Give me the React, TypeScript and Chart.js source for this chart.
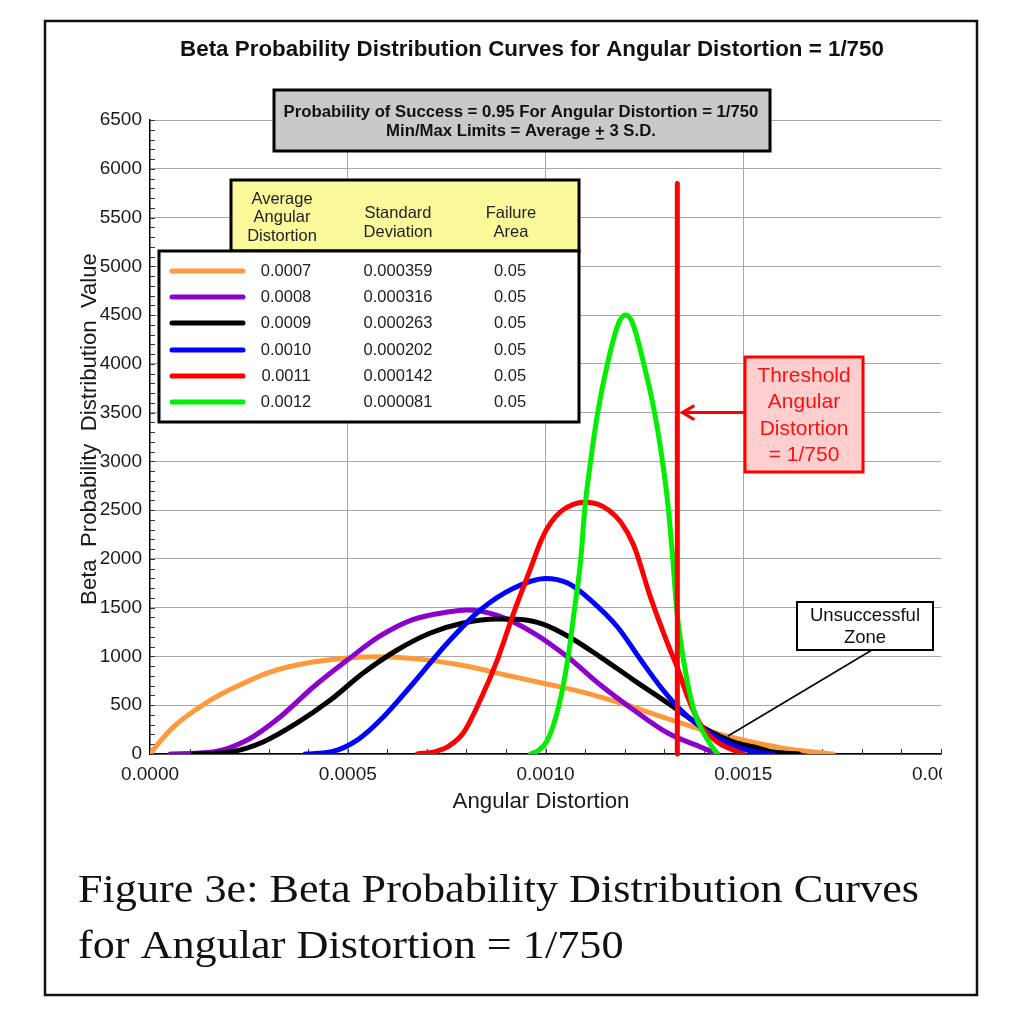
import React, { useEffect, useRef } from "react";
import { Chart, registerables } from "chart.js";

Chart.register(...registerables);

const SANS = "'Liberation Sans', Arial, sans-serif";
const SERIF = "'Liberation Serif', 'Times New Roman', serif";

// ---- data ----
const chartTitle = "Beta Probability Distribution Curves for Angular Distortion = 1/750";
const infoLine1 = "Probability of Success = 0.95 For Angular Distortion = 1/750";
const xAxisTitle = "Angular Distortion";
const yAxisTitle = "Beta  Probability  Distribution  Value";
const captionLines = ["Figure 3e: Beta Probability Distribution Curves", "for Angular Distortion = 1/750"];

const xTickValues = [0, 0.0005, 0.001, 0.0015, 0.002];
const yMax = 6500;
const yStep = 500;

const seriesLabels = ["0.0007", "0.0008", "0.0009", "0.0010", "0.0011", "0.0012"];
const seriesStdDev = ["0.000359", "0.000316", "0.000263", "0.000202", "0.000142", "0.000081"];
const seriesFailure = ["0.05", "0.05", "0.05", "0.05", "0.05", "0.05"];
const seriesColors = ["#ff9a3c", "#8c00cc", "#000000", "#0000ff", "#ff0000", "#00ee00"];

const orangeX = [0, 0.00003, 0.00006, 0.0001, 0.00015, 0.0002, 0.0003, 0.0004, 0.0005, 0.00058, 0.000633, 0.000709, 0.0008, 0.000899, 0.001, 0.001099, 0.0012, 0.001299, 0.0014, 0.001499, 0.0016, 0.001699, 0.001727];
const orangeY = [0, 150, 280, 410, 545, 655, 835, 935, 985, 998, 990, 960, 902, 810, 720, 630, 510, 375, 246, 143, 60, 12, 0];

const purpleX = [0.000051, 0.000159, 0.000246, 0.000329, 0.000413, 0.000499, 0.000582, 0.000666, 0.000752, 0.000803, 0.000878, 0.00097, 0.001056, 0.001139, 0.001223, 0.001309, 0.001392, 0.001435];
const purpleY = [0, 20, 143, 380, 687, 963, 1210, 1380, 1455, 1476, 1420, 1240, 994, 707, 451, 215, 72, 0];

const blackX = [0.000109, 0.000203, 0.000286, 0.000372, 0.000456, 0.000539, 0.000625, 0.000709, 0.000792, 0.000878, 0.000937, 0.000995, 0.001056, 0.001139, 0.001223, 0.001309, 0.001359, 0.00141, 0.001476, 0.001527, 0.001577, 0.001641];
const blackY = [0, 20, 123, 318, 553, 830, 1066, 1240, 1343, 1384, 1380, 1330, 1210, 994, 758, 523, 380, 246, 123, 72, 20, 0];

const blueX = [0.000392, 0.000456, 0.000524, 0.00059, 0.000666, 0.000752, 0.000835, 0.000919, 0.001, 0.001056, 0.001114, 0.001182, 0.001241, 0.001291, 0.001342, 0.001392, 0.001461, 0.001519, 0.001575];
const blueY = [0, 20, 143, 380, 728, 1138, 1476, 1700, 1800, 1752, 1578, 1302, 963, 687, 451, 277, 113, 30, 0];

const redX = [0.000676, 0.000722, 0.000752, 0.000792, 0.000835, 0.000878, 0.000919, 0.000962, 0.00099, 0.001013, 0.00104, 0.00107, 0.0011, 0.00113, 0.00116, 0.00119, 0.001223, 0.001266, 0.001309, 0.001334, 0.001359, 0.001392, 0.001435, 0.001476, 0.001501];
const redY = [0, 25, 72, 215, 553, 963, 1440, 1900, 2200, 2370, 2490, 2560, 2582, 2565, 2500, 2380, 2140, 1600, 1130, 880, 590, 300, 120, 40, 0];

const greenX = [0.000962, 0.00098, 0.001005, 0.001033, 0.001056, 0.001073, 0.001089, 0.001099, 0.001114, 0.001132, 0.001157, 0.001185, 0.001203, 0.00122, 0.001248, 0.001276, 0.001296, 0.001311, 0.001322, 0.001332, 0.001349, 0.001375, 0.00141, 0.001435];
const greenY = [0, 30, 143, 482, 963, 1476, 1990, 2500, 3000, 3500, 4008, 4418, 4500, 4418, 4008, 3495, 2993, 2500, 1990, 1476, 963, 451, 143, 0];

const thresholdValue = 1 / 750;
const thresholdX = [thresholdValue, thresholdValue];
const thresholdY = [0, 5850];

const seriesX = [orangeX, purpleX, blackX, blueX, redX, greenX];
const seriesY = [orangeY, purpleY, blackY, blueY, redY, greenY];

function toPoints(xs: number[], ys: number[]) {
  return xs.map((x, i) => ({ x, y: ys[i] }));
}

function fitSize(ctx: CanvasRenderingContext2D, text: string, weight: string, family: string, target: number) {
  ctx.font = `${weight} 100px ${family}`;
  return (100 * target) / ctx.measureText(text).width;
}

const overlayPlugin = {
  id: "overlay",
  beforeDatasetsDraw(chart: any) {
    const ctx: CanvasRenderingContext2D = chart.ctx;
    const xs = chart.scales.x;
    const ys = chart.scales.y;
    const area = chart.chartArea;
    ctx.save();
    ctx.strokeStyle = "#333";
    ctx.lineWidth = 1;
    ctx.beginPath();
    for (let v = 0; v <= yMax; v += 100) {
      const py = Math.round(ys.getPixelForValue(v)) + 0.5;
      ctx.moveTo(area.left, py);
      ctx.lineTo(area.left + 5, py);
    }
    for (let k = 0; k <= 20; k++) {
      const px = Math.round(xs.getPixelForValue(k * 0.0001)) + 0.5;
      ctx.moveTo(px, area.bottom);
      ctx.lineTo(px, area.bottom - 5);
    }
    ctx.stroke();
    ctx.restore();
  },
  afterDraw(chart: any) {
    const ctx: CanvasRenderingContext2D = chart.ctx;
    const xs = chart.scales.x;
    const ys = chart.scales.y;
    const area = chart.chartArea;
    ctx.save();

    // clip the last x tick label like the reference
    ctx.fillStyle = "#fff";
    ctx.fillRect(area.right + 1, area.bottom + 4, 974 - area.right - 1, 40);

    // chart title
    ctx.fillStyle = "#111";
    ctx.textBaseline = "middle";
    ctx.textAlign = "center";
    const ts = fitSize(ctx, chartTitle, "bold", SANS, 704);
    ctx.font = `bold ${ts}px ${SANS}`;
    ctx.fillText(chartTitle, 532, 50);

    // grey info box
    ctx.fillStyle = "#c9c9c9";
    ctx.fillRect(274, 90, 496, 61);
    ctx.strokeStyle = "#000";
    ctx.lineWidth = 3;
    ctx.strokeRect(274, 90, 496, 61);
    ctx.fillStyle = "#111";
    const is = fitSize(ctx, infoLine1, "bold", SANS, 475);
    ctx.font = `bold ${is}px ${SANS}`;
    ctx.textAlign = "center";
    ctx.fillText(infoLine1, 521, 112);
    const p1 = "Min/Max Limits = Average ";
    const p2 = "+";
    const p3 = " 3 S.D.";
    const w1 = ctx.measureText(p1).width;
    const w2 = ctx.measureText(p2).width;
    const w3 = ctx.measureText(p3).width;
    const sx = 521 - (w1 + w2 + w3) / 2;
    ctx.textAlign = "left";
    ctx.fillText(p1, sx, 131);
    ctx.fillText(p2, sx + w1, 131);
    ctx.fillText(p3, sx + w1 + w2, 131);
    ctx.fillRect(sx + w1 + 1, 138, w2 - 2, 1.5);

    // legend table
    ctx.fillStyle = "#fafa9a";
    ctx.fillRect(231, 180, 348, 71);
    ctx.strokeStyle = "#000";
    ctx.lineWidth = 3;
    ctx.strokeRect(231, 180, 348, 71);
    ctx.fillStyle = "#fff";
    ctx.fillRect(159, 251, 420, 171);
    ctx.strokeRect(159, 251, 420, 171);
    ctx.fillStyle = "#222";
    ctx.textAlign = "center";
    ctx.font = `16.5px ${SANS}`;
    ctx.fillText("Average", 282, 199);
    ctx.fillText("Angular", 282, 217);
    ctx.fillText("Distortion", 282, 236);
    ctx.fillText("Standard", 398, 213);
    ctx.fillText("Deviation", 398, 232);
    ctx.fillText("Failure", 511, 213);
    ctx.fillText("Area", 511, 232);
    const rowY = [271, 297, 323, 350, 376, 402];
    for (let i = 0; i < seriesLabels.length; i++) {
      ctx.strokeStyle = seriesColors[i];
      ctx.lineWidth = 5;
      ctx.lineCap = "round";
      ctx.beginPath();
      ctx.moveTo(172, rowY[i]);
      ctx.lineTo(243, rowY[i]);
      ctx.stroke();
      ctx.fillStyle = "#222";
      ctx.fillText(seriesLabels[i], 286, rowY[i]);
      ctx.fillText(seriesStdDev[i], 398, rowY[i]);
      ctx.fillText(seriesFailure[i], 510, rowY[i]);
    }
    ctx.lineCap = "butt";

    // threshold annotation
    const tx = xs.getPixelForValue(thresholdValue);
    const ay = ys.getPixelForValue(3500);
    ctx.strokeStyle = "#ff0000";
    ctx.lineWidth = 3;
    ctx.beginPath();
    ctx.moveTo(745, ay);
    ctx.lineTo(tx + 5, ay);
    ctx.moveTo(tx + 17, ay - 7);
    ctx.lineTo(tx + 5, ay);
    ctx.lineTo(tx + 17, ay + 7);
    ctx.stroke();
    ctx.fillStyle = "#ffcfcf";
    ctx.fillRect(745, 357, 118, 115);
    ctx.strokeStyle = "#ff0000";
    ctx.lineWidth = 3;
    ctx.strokeRect(745, 357, 118, 115);
    ctx.fillStyle = "#ff1010";
    ctx.font = `21px ${SANS}`;
    ctx.textAlign = "center";
    ctx.fillText("Threshold", 804, 376);
    ctx.fillText("Angular", 804, 402);
    ctx.fillText("Distortion", 804, 429);
    ctx.fillText("= 1/750", 804, 455);

    // unsuccessful zone annotation
    ctx.strokeStyle = "#000";
    ctx.lineWidth = 1.5;
    ctx.beginPath();
    ctx.moveTo(872, 650);
    ctx.lineTo(728, 736);
    ctx.stroke();
    ctx.fillStyle = "#fff";
    ctx.fillRect(797, 602, 136, 48);
    ctx.lineWidth = 2;
    ctx.strokeRect(797, 602, 136, 48);
    ctx.fillStyle = "#111";
    ctx.font = `18.5px ${SANS}`;
    ctx.fillText("Unsuccessful", 865, 616);
    ctx.fillText("Zone", 865, 638);

    // axis titles
    ctx.fillStyle = "#1a1a1a";
    const xt = fitSize(ctx, xAxisTitle, "", SANS, 177);
    ctx.font = `${xt}px ${SANS}`;
    ctx.textAlign = "center";
    ctx.textBaseline = "middle";
    ctx.fillText(xAxisTitle, 541, 802);
    const yt = fitSize(ctx, yAxisTitle, "", SANS, 352);
    ctx.save();
    ctx.translate(96, 429);
    ctx.rotate(-Math.PI / 2);
    ctx.font = `${yt}px ${SANS}`;
    ctx.textBaseline = "alphabetic";
    ctx.fillText(yAxisTitle, 0, 0);
    ctx.restore();

    // caption (serif, widened slightly to match the reference face)
    ctx.fillStyle = "#111";
    ctx.textBaseline = "alphabetic";
    ctx.textAlign = "left";
    ctx.font = `39px ${SERIF}`;
    const cw = ctx.measureText(captionLines[0]).width;
    const sc = 841 / cw;
    ctx.save();
    ctx.translate(78, 0);
    ctx.scale(sc, 1);
    ctx.fillText(captionLines[0], 0, 902);
    ctx.fillText(captionLines[1], 0, 958);
    ctx.restore();

    // outer frame
    ctx.strokeStyle = "#111";
    ctx.lineWidth = 2.5;
    ctx.strokeRect(45, 21, 932, 974);
    ctx.restore();
  },
};

export default function App() {
  const ref = useRef<HTMLCanvasElement>(null);
  useEffect(() => {
    const canvas = ref.current;
    if (!canvas) return;
    const orders = [6, 5, 4, 3, 2, 1];
    const datasets: any[] = seriesX.map((xs, i) => ({
      label: seriesLabels[i],
      data: toPoints(xs, seriesY[i]),
      borderColor: seriesColors[i],
      backgroundColor: seriesColors[i],
      borderWidth: 5,
      pointRadius: 0,
      fill: false,
      cubicInterpolationMode: "monotone",
      borderCapStyle: "round",
      borderJoinStyle: "round",
      order: orders[i],
    }));
    datasets.push({
      label: "Threshold",
      data: toPoints(thresholdX, thresholdY),
      borderColor: "#ff0000",
      borderWidth: 5,
      pointRadius: 0,
      fill: false,
      borderCapStyle: "round",
      order: 0,
      clip: false,
    });
    const chart = new Chart(canvas, {
      type: "line",
      data: { datasets },
      options: {
        responsive: false,
        animation: false,
        devicePixelRatio: 1,
        layout: { padding: { top: 120, right: 83, bottom: 230, left: 0 } },
        plugins: {
          legend: { display: false },
          tooltip: { enabled: false },
          title: { display: false },
        },
        scales: {
          x: {
            type: "linear",
            min: 0,
            max: 0.002,
            afterFit: (s: any) => {
              s.height = 40;
            },
            afterBuildTicks: (s: any) => {
              s.ticks = xTickValues.map((v) => ({ value: v }));
            },
            ticks: {
              callback: (v: any) => Number(v).toFixed(4),
              font: { family: SANS, size: 19 },
              color: "#1a1a1a",
              padding: 9,
              maxRotation: 0,
              autoSkip: false,
            },
            grid: {
              color: (c: any) => {
                const v = c.tick ? c.tick.value : 0;
                return v <= 1e-9 || v >= 0.002 - 1e-9 ? "rgba(0,0,0,0)" : "#a8a8a8";
              },
              lineWidth: 1,
              drawTicks: false,
            },
            border: { display: true, color: "#000", width: 1.5 },
          },
          y: {
            min: 0,
            max: yMax,
            afterFit: (s: any) => {
              s.width = 150;
            },
            ticks: {
              stepSize: yStep,
              callback: (v: any) => String(v),
              font: { family: SANS, size: 19 },
              color: "#1a1a1a",
              padding: 8,
            },
            grid: {
              color: "#a8a8a8",
              lineWidth: 1,
              drawTicks: false,
            },
            border: { display: true, color: "#000", width: 1.5 },
          },
        },
      },
      plugins: [overlayPlugin],
    } as any);
    return () => chart.destroy();
  }, []);
  return (
    <div style={{ position: "absolute", left: 0, top: 0, width: 1024, height: 1024, background: "#fff" }}>
      <canvas ref={ref} width={1024} height={1024} style={{ display: "block", width: 1024, height: 1024 }} />
    </div>
  );
}
